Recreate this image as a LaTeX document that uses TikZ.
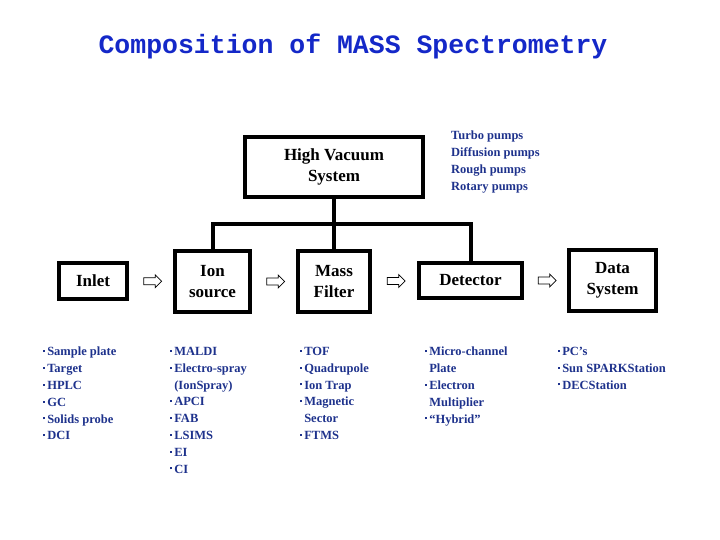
\documentclass[tikz,border=0pt]{standalone}
\usepackage{fontspec}
\setmainfont{Liberation Serif}
\newfontfamily\titlefont{Liberation Mono}
\usetikzlibrary{shapes.arrows, positioning}
\definecolor{navy}{RGB}{30,50,140}
\definecolor{titleblue}{RGB}{20,40,200}
\newcommand{\itm}{\rule[0.3em]{2pt}{2pt}\,}
\tikzset{
  unit/.style={draw, line width=3.5pt, align=center, font=\fontsize{17}{21}\selectfont\bfseries, inner sep=0pt},
  flow/.style={single arrow, draw, line width=0.7pt, minimum height=18pt, minimum width=13pt, single arrow head extend=3pt, inner xsep=0pt, inner ysep=3pt},
  items/.style={anchor=north west, align=left, text=navy, inner sep=0pt, font=\fontsize{12.5}{16.8}\selectfont\bfseries},
  bus/.style={line width=3.5pt}
}
\begin{document}
\begin{tikzpicture}[x=1pt,y=-1pt]
  \useasboundingbox (0,0) rectangle (720,540);

  % ---------- Title ----------
  \node[text=titleblue, font=\titlefont\fontsize{26.5}{30}\selectfont\bfseries] (title) at (353,46) {Composition of MASS Spectrometry};

  % ---------- Units ----------
  \node[unit, minimum width=178, minimum height=60] (vac) at (334,167) {High Vacuum\\System};
  \node[unit, minimum width=68, minimum height=36] (inlet) at (93,281) {Inlet};
  \node[unit, minimum width=75, minimum height=61] (ion) at (212.5,281.5) {Ion\\source};
  \node[unit, minimum width=72, minimum height=61] (mass) at (334,281.5) {Mass\\Filter};
  \node[unit, minimum width=103, minimum height=35] (det) at (470.5,280.5) {Detector};
  \node[unit, minimum width=87, minimum height=61] (data) at (612.5,280.5) {Data\\System};

  % ---------- Vacuum bus ----------
  \coordinate (busL) at (213,224);
  \coordinate (busR) at (471,224);
  \draw[bus] (vac.south) -- (mass.north);
  \draw[bus] (ion.north -| busL) -- (busL) -- (busR) -- (det.north -| busR);

  % ---------- Flow arrows ----------
  \foreach \a/\b/\n in {inlet/ion/f1, ion/mass/f2, mass/det/f3, det/data/f4} {
    \path (\a.east) -- (\b.west) node[flow, midway] (\n) {};
  }

  % ---------- Lists ----------
  \node[items] (pumps) at (451,131) {Turbo pumps\\Diffusion pumps\\Rough pumps\\Rotary pumps};
  \node[items] (inletlist) at (43,347) {\itm Sample plate\\\itm Target\\\itm HPLC\\\itm GC\\\itm Solids probe\\\itm DCI};
  \node[items] (ionlist) at (170,347) {\itm MALDI\\\itm Electro-spray\\\phantom{\itm}(IonSpray)\\\itm APCI\\\itm FAB\\\itm LSIMS\\\itm EI\\\itm CI};
  \node[items] (masslist) at (300,347) {\itm TOF\\\itm Quadrupole\\\itm Ion Trap\\\itm Magnetic\\\phantom{\itm}Sector\\\itm FTMS};
  \node[items] (detlist) at (425,347) {\itm Micro-channel\\\phantom{\itm}Plate\\\itm Electron\\\phantom{\itm}Multiplier\\\itm ``Hybrid''};
  \node[items] (datalist) at (558,347) {\itm PC's\\\itm Sun SPARKStation\\\itm DECStation};
\end{tikzpicture}
\end{document}
